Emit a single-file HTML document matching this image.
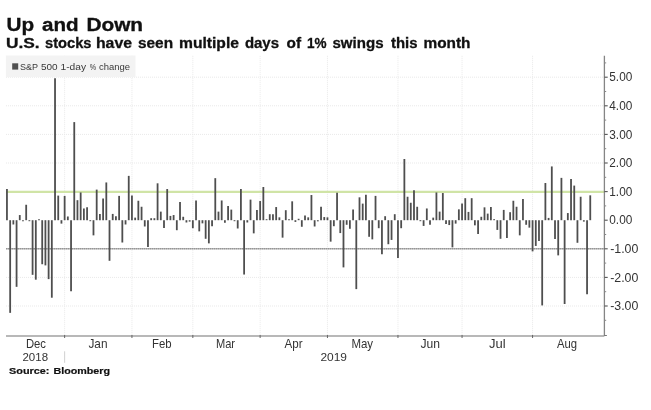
<!DOCTYPE html>
<html><head><meta charset="utf-8"><style>
html,body{margin:0;padding:0;background:#fff;width:651px;height:410px;overflow:hidden}
svg{display:block;will-change:transform}
text{font-family:"Liberation Sans",sans-serif}
</style></head><body>
<svg width="651" height="410" viewBox="0 0 651 410">
<rect width="651" height="410" fill="#fff"/>

<text x="6.46" y="30.9" font-size="19.2" font-weight="bold" fill="#111" stroke="#111" stroke-width="0.35" textLength="27.58" lengthAdjust="spacingAndGlyphs">Up</text>
<text x="41.96" y="30.9" font-size="19.2" font-weight="bold" fill="#111" stroke="#111" stroke-width="0.35" textLength="36.61" lengthAdjust="spacingAndGlyphs">and</text>
<text x="86.43" y="30.9" font-size="19.2" font-weight="bold" fill="#111" stroke="#111" stroke-width="0.35" textLength="56.62" lengthAdjust="spacingAndGlyphs">Down</text>
<text x="5.92" y="48.1" font-size="14.3" font-weight="bold" fill="#111" stroke="#111" stroke-width="0.3" textLength="33.69" lengthAdjust="spacingAndGlyphs">U.S.</text>
<text x="44.98" y="48.1" font-size="14.3" font-weight="bold" fill="#111" stroke="#111" stroke-width="0.3" textLength="46.54" lengthAdjust="spacingAndGlyphs">stocks</text>
<text x="95.97" y="48.1" font-size="14.3" font-weight="bold" fill="#111" stroke="#111" stroke-width="0.3" textLength="36.03" lengthAdjust="spacingAndGlyphs">have</text>
<text x="137.98" y="48.1" font-size="14.3" font-weight="bold" fill="#111" stroke="#111" stroke-width="0.3" textLength="35.08" lengthAdjust="spacingAndGlyphs">seen</text>
<text x="178.98" y="48.1" font-size="14.3" font-weight="bold" fill="#111" stroke="#111" stroke-width="0.3" textLength="60.03" lengthAdjust="spacingAndGlyphs">multiple</text>
<text x="244.92" y="48.1" font-size="14.3" font-weight="bold" fill="#111" stroke="#111" stroke-width="0.3" textLength="34.11" lengthAdjust="spacingAndGlyphs">days</text>
<text x="286.49" y="48.1" font-size="14.3" font-weight="bold" fill="#111" stroke="#111" stroke-width="0.3" textLength="14.53" lengthAdjust="spacingAndGlyphs">of</text>
<text x="306.96" y="48.1" font-size="14.3" font-weight="bold" fill="#111" stroke="#111" stroke-width="0.3" textLength="19.56" lengthAdjust="spacingAndGlyphs">1%</text>
<text x="332.48" y="48.1" font-size="14.3" font-weight="bold" fill="#111" stroke="#111" stroke-width="0.3" textLength="51.05" lengthAdjust="spacingAndGlyphs">swings</text>
<text x="391.00" y="48.1" font-size="14.3" font-weight="bold" fill="#111" stroke="#111" stroke-width="0.3" textLength="26.50" lengthAdjust="spacingAndGlyphs">this</text>
<text x="423.47" y="48.1" font-size="14.3" font-weight="bold" fill="#111" stroke="#111" stroke-width="0.3" textLength="47.06" lengthAdjust="spacingAndGlyphs">month</text>
<line x1="6.0" y1="306.00" x2="604.4" y2="306.00" stroke="#e9e9e9" stroke-width="1" stroke-dasharray="1,1"/>
<line x1="6.0" y1="277.40" x2="604.4" y2="277.40" stroke="#e9e9e9" stroke-width="1" stroke-dasharray="1,1"/>
<line x1="6.0" y1="163.00" x2="604.4" y2="163.00" stroke="#e9e9e9" stroke-width="1" stroke-dasharray="1,1"/>
<line x1="6.0" y1="134.40" x2="604.4" y2="134.40" stroke="#e9e9e9" stroke-width="1" stroke-dasharray="1,1"/>
<line x1="6.0" y1="105.80" x2="604.4" y2="105.80" stroke="#e9e9e9" stroke-width="1" stroke-dasharray="1,1"/>
<line x1="6.0" y1="77.20" x2="604.4" y2="77.20" stroke="#e9e9e9" stroke-width="1" stroke-dasharray="1,1"/>
<line x1="64.64" y1="55.8" x2="64.64" y2="336.0" stroke="#e9e9e9" stroke-width="1" stroke-dasharray="1,1"/>
<line x1="131.94" y1="55.8" x2="131.94" y2="336.0" stroke="#e9e9e9" stroke-width="1" stroke-dasharray="1,1"/>
<line x1="192.84" y1="55.8" x2="192.84" y2="336.0" stroke="#e9e9e9" stroke-width="1" stroke-dasharray="1,1"/>
<line x1="260.14" y1="55.8" x2="260.14" y2="336.0" stroke="#e9e9e9" stroke-width="1" stroke-dasharray="1,1"/>
<line x1="327.45" y1="55.8" x2="327.45" y2="336.0" stroke="#e9e9e9" stroke-width="1" stroke-dasharray="1,1"/>
<line x1="397.96" y1="55.8" x2="397.96" y2="336.0" stroke="#e9e9e9" stroke-width="1" stroke-dasharray="1,1"/>
<line x1="462.06" y1="55.8" x2="462.06" y2="336.0" stroke="#e9e9e9" stroke-width="1" stroke-dasharray="1,1"/>
<line x1="532.57" y1="55.8" x2="532.57" y2="336.0" stroke="#e9e9e9" stroke-width="1" stroke-dasharray="1,1"/>
<rect x="5.85" y="55.5" width="129.65" height="21.6" fill="#f3f3f3"/>
<rect x="12.2" y="63.3" width="6" height="6.3" fill="#505050"/>
<text x="19.98" y="70.2" font-size="9.9" fill="#383838" textLength="18.06" lengthAdjust="spacingAndGlyphs">S&amp;P</text>
<text x="40.94" y="70.2" font-size="9.9" fill="#383838" textLength="16.65" lengthAdjust="spacingAndGlyphs">500</text>
<text x="60.49" y="70.2" font-size="9.9" fill="#383838" textLength="25.52" lengthAdjust="spacingAndGlyphs">1-day</text>
<text x="89.80" y="70.2" font-size="9.9" fill="#383838" textLength="6.41" lengthAdjust="spacingAndGlyphs">%</text>
<text x="98.97" y="70.2" font-size="9.9" fill="#383838" textLength="31.05" lengthAdjust="spacingAndGlyphs">change</text>
<line x1="6.0" y1="191.85" x2="604.4" y2="191.85" stroke="#d0e4a6" stroke-width="2.1"/>
<line x1="6.0" y1="248.80" x2="604.4" y2="248.80" stroke="#b4b4b4" stroke-width="1.5"/>
<line x1="6.0" y1="248.80" x2="604.4" y2="248.80" stroke="#8c8c8c" stroke-width="1.1" stroke-dasharray="1,1"/>
<line x1="6.95" y1="220.20" x2="6.95" y2="189.03" stroke="#4e4e4e" stroke-width="1.8"/>
<line x1="10.16" y1="220.20" x2="10.16" y2="312.86" stroke="#4e4e4e" stroke-width="1.8"/>
<line x1="13.36" y1="220.20" x2="13.36" y2="224.49" stroke="#4e4e4e" stroke-width="1.8"/>
<line x1="16.57" y1="220.20" x2="16.57" y2="286.84" stroke="#4e4e4e" stroke-width="1.8"/>
<line x1="19.77" y1="220.20" x2="19.77" y2="215.05" stroke="#4e4e4e" stroke-width="1.8"/>
<line x1="22.97" y1="220.20" x2="22.97" y2="221.34" stroke="#4e4e4e" stroke-width="1.8"/>
<line x1="26.18" y1="220.20" x2="26.18" y2="204.76" stroke="#4e4e4e" stroke-width="1.8"/>
<line x1="29.39" y1="220.20" x2="29.39" y2="221.20" stroke="#4e4e4e" stroke-width="1.8"/>
<line x1="32.59" y1="220.20" x2="32.59" y2="274.83" stroke="#4e4e4e" stroke-width="1.8"/>
<line x1="35.80" y1="220.20" x2="35.80" y2="279.69" stroke="#4e4e4e" stroke-width="1.8"/>
<line x1="39.00" y1="220.20" x2="39.00" y2="219.20" stroke="#4e4e4e" stroke-width="1.8"/>
<line x1="42.21" y1="220.20" x2="42.21" y2="264.24" stroke="#4e4e4e" stroke-width="1.8"/>
<line x1="45.41" y1="220.20" x2="45.41" y2="265.39" stroke="#4e4e4e" stroke-width="1.8"/>
<line x1="48.62" y1="220.20" x2="48.62" y2="279.12" stroke="#4e4e4e" stroke-width="1.8"/>
<line x1="51.82" y1="220.20" x2="51.82" y2="297.71" stroke="#4e4e4e" stroke-width="1.8"/>
<line x1="55.03" y1="220.20" x2="55.03" y2="78.34" stroke="#4e4e4e" stroke-width="1.8"/>
<line x1="58.23" y1="220.20" x2="58.23" y2="195.60" stroke="#4e4e4e" stroke-width="1.8"/>
<line x1="61.44" y1="220.20" x2="61.44" y2="223.63" stroke="#4e4e4e" stroke-width="1.8"/>
<line x1="64.64" y1="220.20" x2="64.64" y2="195.89" stroke="#4e4e4e" stroke-width="1.8"/>
<line x1="67.84" y1="220.20" x2="67.84" y2="216.48" stroke="#4e4e4e" stroke-width="1.8"/>
<line x1="71.05" y1="220.20" x2="71.05" y2="291.13" stroke="#4e4e4e" stroke-width="1.8"/>
<line x1="74.26" y1="220.20" x2="74.26" y2="122.10" stroke="#4e4e4e" stroke-width="1.8"/>
<line x1="77.46" y1="220.20" x2="77.46" y2="200.18" stroke="#4e4e4e" stroke-width="1.8"/>
<line x1="80.67" y1="220.20" x2="80.67" y2="192.46" stroke="#4e4e4e" stroke-width="1.8"/>
<line x1="83.87" y1="220.20" x2="83.87" y2="208.47" stroke="#4e4e4e" stroke-width="1.8"/>
<line x1="87.08" y1="220.20" x2="87.08" y2="207.33" stroke="#4e4e4e" stroke-width="1.8"/>
<line x1="90.28" y1="220.20" x2="90.28" y2="221.20" stroke="#4e4e4e" stroke-width="1.8"/>
<line x1="93.48" y1="220.20" x2="93.48" y2="235.36" stroke="#4e4e4e" stroke-width="1.8"/>
<line x1="96.69" y1="220.20" x2="96.69" y2="189.60" stroke="#4e4e4e" stroke-width="1.8"/>
<line x1="99.90" y1="220.20" x2="99.90" y2="213.91" stroke="#4e4e4e" stroke-width="1.8"/>
<line x1="103.10" y1="220.20" x2="103.10" y2="198.46" stroke="#4e4e4e" stroke-width="1.8"/>
<line x1="106.31" y1="220.20" x2="106.31" y2="182.45" stroke="#4e4e4e" stroke-width="1.8"/>
<line x1="109.51" y1="220.20" x2="109.51" y2="260.81" stroke="#4e4e4e" stroke-width="1.8"/>
<line x1="112.72" y1="220.20" x2="112.72" y2="213.91" stroke="#4e4e4e" stroke-width="1.8"/>
<line x1="115.92" y1="220.20" x2="115.92" y2="216.20" stroke="#4e4e4e" stroke-width="1.8"/>
<line x1="119.12" y1="220.20" x2="119.12" y2="195.89" stroke="#4e4e4e" stroke-width="1.8"/>
<line x1="122.33" y1="220.20" x2="122.33" y2="242.51" stroke="#4e4e4e" stroke-width="1.8"/>
<line x1="125.54" y1="220.20" x2="125.54" y2="224.49" stroke="#4e4e4e" stroke-width="1.8"/>
<line x1="128.74" y1="220.20" x2="128.74" y2="175.87" stroke="#4e4e4e" stroke-width="1.8"/>
<line x1="131.94" y1="220.20" x2="131.94" y2="195.60" stroke="#4e4e4e" stroke-width="1.8"/>
<line x1="135.15" y1="220.20" x2="135.15" y2="217.63" stroke="#4e4e4e" stroke-width="1.8"/>
<line x1="138.35" y1="220.20" x2="138.35" y2="200.75" stroke="#4e4e4e" stroke-width="1.8"/>
<line x1="141.56" y1="220.20" x2="141.56" y2="206.76" stroke="#4e4e4e" stroke-width="1.8"/>
<line x1="144.76" y1="220.20" x2="144.76" y2="226.49" stroke="#4e4e4e" stroke-width="1.8"/>
<line x1="147.97" y1="220.20" x2="147.97" y2="247.08" stroke="#4e4e4e" stroke-width="1.8"/>
<line x1="151.17" y1="220.20" x2="151.17" y2="218.20" stroke="#4e4e4e" stroke-width="1.8"/>
<line x1="154.38" y1="220.20" x2="154.38" y2="218.20" stroke="#4e4e4e" stroke-width="1.8"/>
<line x1="157.58" y1="220.20" x2="157.58" y2="183.31" stroke="#4e4e4e" stroke-width="1.8"/>
<line x1="160.79" y1="220.20" x2="160.79" y2="211.62" stroke="#4e4e4e" stroke-width="1.8"/>
<line x1="164.00" y1="220.20" x2="164.00" y2="227.92" stroke="#4e4e4e" stroke-width="1.8"/>
<line x1="167.20" y1="220.20" x2="167.20" y2="189.03" stroke="#4e4e4e" stroke-width="1.8"/>
<line x1="170.41" y1="220.20" x2="170.41" y2="215.91" stroke="#4e4e4e" stroke-width="1.8"/>
<line x1="173.61" y1="220.20" x2="173.61" y2="215.05" stroke="#4e4e4e" stroke-width="1.8"/>
<line x1="176.81" y1="220.20" x2="176.81" y2="230.21" stroke="#4e4e4e" stroke-width="1.8"/>
<line x1="180.02" y1="220.20" x2="180.02" y2="201.90" stroke="#4e4e4e" stroke-width="1.8"/>
<line x1="183.22" y1="220.20" x2="183.22" y2="216.77" stroke="#4e4e4e" stroke-width="1.8"/>
<line x1="186.43" y1="220.20" x2="186.43" y2="222.49" stroke="#4e4e4e" stroke-width="1.8"/>
<line x1="189.63" y1="220.20" x2="189.63" y2="221.63" stroke="#4e4e4e" stroke-width="1.8"/>
<line x1="192.84" y1="220.20" x2="192.84" y2="228.21" stroke="#4e4e4e" stroke-width="1.8"/>
<line x1="196.04" y1="220.20" x2="196.04" y2="200.47" stroke="#4e4e4e" stroke-width="1.8"/>
<line x1="199.25" y1="220.20" x2="199.25" y2="231.35" stroke="#4e4e4e" stroke-width="1.8"/>
<line x1="202.45" y1="220.20" x2="202.45" y2="223.35" stroke="#4e4e4e" stroke-width="1.8"/>
<line x1="205.66" y1="220.20" x2="205.66" y2="238.79" stroke="#4e4e4e" stroke-width="1.8"/>
<line x1="208.86" y1="220.20" x2="208.86" y2="243.37" stroke="#4e4e4e" stroke-width="1.8"/>
<line x1="212.07" y1="220.20" x2="212.07" y2="226.21" stroke="#4e4e4e" stroke-width="1.8"/>
<line x1="215.28" y1="220.20" x2="215.28" y2="178.16" stroke="#4e4e4e" stroke-width="1.8"/>
<line x1="218.48" y1="220.20" x2="218.48" y2="211.62" stroke="#4e4e4e" stroke-width="1.8"/>
<line x1="221.69" y1="220.20" x2="221.69" y2="200.47" stroke="#4e4e4e" stroke-width="1.8"/>
<line x1="224.89" y1="220.20" x2="224.89" y2="222.77" stroke="#4e4e4e" stroke-width="1.8"/>
<line x1="228.09" y1="220.20" x2="228.09" y2="205.90" stroke="#4e4e4e" stroke-width="1.8"/>
<line x1="231.30" y1="220.20" x2="231.30" y2="209.62" stroke="#4e4e4e" stroke-width="1.8"/>
<line x1="234.50" y1="220.20" x2="234.50" y2="221.20" stroke="#4e4e4e" stroke-width="1.8"/>
<line x1="237.71" y1="220.20" x2="237.71" y2="228.49" stroke="#4e4e4e" stroke-width="1.8"/>
<line x1="240.91" y1="220.20" x2="240.91" y2="189.03" stroke="#4e4e4e" stroke-width="1.8"/>
<line x1="244.12" y1="220.20" x2="244.12" y2="274.54" stroke="#4e4e4e" stroke-width="1.8"/>
<line x1="247.32" y1="220.20" x2="247.32" y2="222.49" stroke="#4e4e4e" stroke-width="1.8"/>
<line x1="250.53" y1="220.20" x2="250.53" y2="199.61" stroke="#4e4e4e" stroke-width="1.8"/>
<line x1="253.73" y1="220.20" x2="253.73" y2="233.36" stroke="#4e4e4e" stroke-width="1.8"/>
<line x1="256.94" y1="220.20" x2="256.94" y2="209.90" stroke="#4e4e4e" stroke-width="1.8"/>
<line x1="260.14" y1="220.20" x2="260.14" y2="201.04" stroke="#4e4e4e" stroke-width="1.8"/>
<line x1="263.35" y1="220.20" x2="263.35" y2="187.02" stroke="#4e4e4e" stroke-width="1.8"/>
<line x1="266.56" y1="220.20" x2="266.56" y2="219.20" stroke="#4e4e4e" stroke-width="1.8"/>
<line x1="269.76" y1="220.20" x2="269.76" y2="214.19" stroke="#4e4e4e" stroke-width="1.8"/>
<line x1="272.96" y1="220.20" x2="272.96" y2="214.19" stroke="#4e4e4e" stroke-width="1.8"/>
<line x1="276.17" y1="220.20" x2="276.17" y2="207.04" stroke="#4e4e4e" stroke-width="1.8"/>
<line x1="279.38" y1="220.20" x2="279.38" y2="217.34" stroke="#4e4e4e" stroke-width="1.8"/>
<line x1="282.58" y1="220.20" x2="282.58" y2="237.65" stroke="#4e4e4e" stroke-width="1.8"/>
<line x1="285.78" y1="220.20" x2="285.78" y2="210.19" stroke="#4e4e4e" stroke-width="1.8"/>
<line x1="288.99" y1="220.20" x2="288.99" y2="219.20" stroke="#4e4e4e" stroke-width="1.8"/>
<line x1="292.19" y1="220.20" x2="292.19" y2="201.32" stroke="#4e4e4e" stroke-width="1.8"/>
<line x1="295.40" y1="220.20" x2="295.40" y2="221.92" stroke="#4e4e4e" stroke-width="1.8"/>
<line x1="298.61" y1="220.20" x2="298.61" y2="218.77" stroke="#4e4e4e" stroke-width="1.8"/>
<line x1="301.81" y1="220.20" x2="301.81" y2="226.78" stroke="#4e4e4e" stroke-width="1.8"/>
<line x1="305.01" y1="220.20" x2="305.01" y2="215.62" stroke="#4e4e4e" stroke-width="1.8"/>
<line x1="308.22" y1="220.20" x2="308.22" y2="217.34" stroke="#4e4e4e" stroke-width="1.8"/>
<line x1="311.43" y1="220.20" x2="311.43" y2="195.03" stroke="#4e4e4e" stroke-width="1.8"/>
<line x1="314.63" y1="220.20" x2="314.63" y2="226.49" stroke="#4e4e4e" stroke-width="1.8"/>
<line x1="317.83" y1="220.20" x2="317.83" y2="221.34" stroke="#4e4e4e" stroke-width="1.8"/>
<line x1="321.04" y1="220.20" x2="321.04" y2="206.76" stroke="#4e4e4e" stroke-width="1.8"/>
<line x1="324.25" y1="220.20" x2="324.25" y2="217.05" stroke="#4e4e4e" stroke-width="1.8"/>
<line x1="327.45" y1="220.20" x2="327.45" y2="217.34" stroke="#4e4e4e" stroke-width="1.8"/>
<line x1="330.65" y1="220.20" x2="330.65" y2="241.65" stroke="#4e4e4e" stroke-width="1.8"/>
<line x1="333.86" y1="220.20" x2="333.86" y2="226.21" stroke="#4e4e4e" stroke-width="1.8"/>
<line x1="337.06" y1="220.20" x2="337.06" y2="192.74" stroke="#4e4e4e" stroke-width="1.8"/>
<line x1="340.27" y1="220.20" x2="340.27" y2="233.07" stroke="#4e4e4e" stroke-width="1.8"/>
<line x1="343.48" y1="220.20" x2="343.48" y2="267.39" stroke="#4e4e4e" stroke-width="1.8"/>
<line x1="346.68" y1="220.20" x2="346.68" y2="224.78" stroke="#4e4e4e" stroke-width="1.8"/>
<line x1="349.88" y1="220.20" x2="349.88" y2="228.78" stroke="#4e4e4e" stroke-width="1.8"/>
<line x1="353.09" y1="220.20" x2="353.09" y2="209.62" stroke="#4e4e4e" stroke-width="1.8"/>
<line x1="356.30" y1="220.20" x2="356.30" y2="289.13" stroke="#4e4e4e" stroke-width="1.8"/>
<line x1="359.50" y1="220.20" x2="359.50" y2="197.32" stroke="#4e4e4e" stroke-width="1.8"/>
<line x1="362.70" y1="220.20" x2="362.70" y2="203.61" stroke="#4e4e4e" stroke-width="1.8"/>
<line x1="365.91" y1="220.20" x2="365.91" y2="194.75" stroke="#4e4e4e" stroke-width="1.8"/>
<line x1="369.12" y1="220.20" x2="369.12" y2="236.79" stroke="#4e4e4e" stroke-width="1.8"/>
<line x1="372.32" y1="220.20" x2="372.32" y2="239.36" stroke="#4e4e4e" stroke-width="1.8"/>
<line x1="375.52" y1="220.20" x2="375.52" y2="195.89" stroke="#4e4e4e" stroke-width="1.8"/>
<line x1="378.73" y1="220.20" x2="378.73" y2="228.21" stroke="#4e4e4e" stroke-width="1.8"/>
<line x1="381.94" y1="220.20" x2="381.94" y2="254.23" stroke="#4e4e4e" stroke-width="1.8"/>
<line x1="385.14" y1="220.20" x2="385.14" y2="216.20" stroke="#4e4e4e" stroke-width="1.8"/>
<line x1="388.34" y1="220.20" x2="388.34" y2="244.22" stroke="#4e4e4e" stroke-width="1.8"/>
<line x1="391.55" y1="220.20" x2="391.55" y2="239.93" stroke="#4e4e4e" stroke-width="1.8"/>
<line x1="394.75" y1="220.20" x2="394.75" y2="214.19" stroke="#4e4e4e" stroke-width="1.8"/>
<line x1="397.96" y1="220.20" x2="397.96" y2="257.95" stroke="#4e4e4e" stroke-width="1.8"/>
<line x1="401.17" y1="220.20" x2="401.17" y2="228.21" stroke="#4e4e4e" stroke-width="1.8"/>
<line x1="404.37" y1="220.20" x2="404.37" y2="159.00" stroke="#4e4e4e" stroke-width="1.8"/>
<line x1="407.57" y1="220.20" x2="407.57" y2="196.75" stroke="#4e4e4e" stroke-width="1.8"/>
<line x1="410.78" y1="220.20" x2="410.78" y2="202.75" stroke="#4e4e4e" stroke-width="1.8"/>
<line x1="413.99" y1="220.20" x2="413.99" y2="190.17" stroke="#4e4e4e" stroke-width="1.8"/>
<line x1="417.19" y1="220.20" x2="417.19" y2="206.76" stroke="#4e4e4e" stroke-width="1.8"/>
<line x1="420.39" y1="220.20" x2="420.39" y2="221.20" stroke="#4e4e4e" stroke-width="1.8"/>
<line x1="423.60" y1="220.20" x2="423.60" y2="225.92" stroke="#4e4e4e" stroke-width="1.8"/>
<line x1="426.81" y1="220.20" x2="426.81" y2="208.47" stroke="#4e4e4e" stroke-width="1.8"/>
<line x1="430.01" y1="220.20" x2="430.01" y2="224.78" stroke="#4e4e4e" stroke-width="1.8"/>
<line x1="433.21" y1="220.20" x2="433.21" y2="217.63" stroke="#4e4e4e" stroke-width="1.8"/>
<line x1="436.42" y1="220.20" x2="436.42" y2="192.46" stroke="#4e4e4e" stroke-width="1.8"/>
<line x1="439.62" y1="220.20" x2="439.62" y2="211.62" stroke="#4e4e4e" stroke-width="1.8"/>
<line x1="442.83" y1="220.20" x2="442.83" y2="193.03" stroke="#4e4e4e" stroke-width="1.8"/>
<line x1="446.04" y1="220.20" x2="446.04" y2="223.92" stroke="#4e4e4e" stroke-width="1.8"/>
<line x1="449.24" y1="220.20" x2="449.24" y2="225.06" stroke="#4e4e4e" stroke-width="1.8"/>
<line x1="452.44" y1="220.20" x2="452.44" y2="247.37" stroke="#4e4e4e" stroke-width="1.8"/>
<line x1="455.65" y1="220.20" x2="455.65" y2="223.63" stroke="#4e4e4e" stroke-width="1.8"/>
<line x1="458.86" y1="220.20" x2="458.86" y2="209.33" stroke="#4e4e4e" stroke-width="1.8"/>
<line x1="462.06" y1="220.20" x2="462.06" y2="203.61" stroke="#4e4e4e" stroke-width="1.8"/>
<line x1="465.26" y1="220.20" x2="465.26" y2="198.18" stroke="#4e4e4e" stroke-width="1.8"/>
<line x1="468.47" y1="220.20" x2="468.47" y2="211.91" stroke="#4e4e4e" stroke-width="1.8"/>
<line x1="471.68" y1="220.20" x2="471.68" y2="198.18" stroke="#4e4e4e" stroke-width="1.8"/>
<line x1="474.88" y1="220.20" x2="474.88" y2="225.35" stroke="#4e4e4e" stroke-width="1.8"/>
<line x1="478.08" y1="220.20" x2="478.08" y2="233.93" stroke="#4e4e4e" stroke-width="1.8"/>
<line x1="481.29" y1="220.20" x2="481.29" y2="216.77" stroke="#4e4e4e" stroke-width="1.8"/>
<line x1="484.50" y1="220.20" x2="484.50" y2="207.33" stroke="#4e4e4e" stroke-width="1.8"/>
<line x1="487.70" y1="220.20" x2="487.70" y2="213.62" stroke="#4e4e4e" stroke-width="1.8"/>
<line x1="490.90" y1="220.20" x2="490.90" y2="207.04" stroke="#4e4e4e" stroke-width="1.8"/>
<line x1="494.11" y1="220.20" x2="494.11" y2="219.20" stroke="#4e4e4e" stroke-width="1.8"/>
<line x1="497.31" y1="220.20" x2="497.31" y2="229.92" stroke="#4e4e4e" stroke-width="1.8"/>
<line x1="500.52" y1="220.20" x2="500.52" y2="238.79" stroke="#4e4e4e" stroke-width="1.8"/>
<line x1="503.73" y1="220.20" x2="503.73" y2="209.90" stroke="#4e4e4e" stroke-width="1.8"/>
<line x1="506.93" y1="220.20" x2="506.93" y2="237.93" stroke="#4e4e4e" stroke-width="1.8"/>
<line x1="510.13" y1="220.20" x2="510.13" y2="212.19" stroke="#4e4e4e" stroke-width="1.8"/>
<line x1="513.34" y1="220.20" x2="513.34" y2="200.75" stroke="#4e4e4e" stroke-width="1.8"/>
<line x1="516.55" y1="220.20" x2="516.55" y2="206.76" stroke="#4e4e4e" stroke-width="1.8"/>
<line x1="519.75" y1="220.20" x2="519.75" y2="235.36" stroke="#4e4e4e" stroke-width="1.8"/>
<line x1="522.96" y1="220.20" x2="522.96" y2="199.04" stroke="#4e4e4e" stroke-width="1.8"/>
<line x1="526.16" y1="220.20" x2="526.16" y2="224.78" stroke="#4e4e4e" stroke-width="1.8"/>
<line x1="529.37" y1="220.20" x2="529.37" y2="227.64" stroke="#4e4e4e" stroke-width="1.8"/>
<line x1="532.57" y1="220.20" x2="532.57" y2="251.37" stroke="#4e4e4e" stroke-width="1.8"/>
<line x1="535.78" y1="220.20" x2="535.78" y2="245.94" stroke="#4e4e4e" stroke-width="1.8"/>
<line x1="538.98" y1="220.20" x2="538.98" y2="241.08" stroke="#4e4e4e" stroke-width="1.8"/>
<line x1="542.19" y1="220.20" x2="542.19" y2="305.43" stroke="#4e4e4e" stroke-width="1.8"/>
<line x1="545.39" y1="220.20" x2="545.39" y2="183.02" stroke="#4e4e4e" stroke-width="1.8"/>
<line x1="548.60" y1="220.20" x2="548.60" y2="217.91" stroke="#4e4e4e" stroke-width="1.8"/>
<line x1="551.80" y1="220.20" x2="551.80" y2="166.43" stroke="#4e4e4e" stroke-width="1.8"/>
<line x1="555.01" y1="220.20" x2="555.01" y2="239.08" stroke="#4e4e4e" stroke-width="1.8"/>
<line x1="558.21" y1="220.20" x2="558.21" y2="255.38" stroke="#4e4e4e" stroke-width="1.8"/>
<line x1="561.42" y1="220.20" x2="561.42" y2="177.87" stroke="#4e4e4e" stroke-width="1.8"/>
<line x1="564.62" y1="220.20" x2="564.62" y2="304.00" stroke="#4e4e4e" stroke-width="1.8"/>
<line x1="567.83" y1="220.20" x2="567.83" y2="213.05" stroke="#4e4e4e" stroke-width="1.8"/>
<line x1="571.03" y1="220.20" x2="571.03" y2="179.02" stroke="#4e4e4e" stroke-width="1.8"/>
<line x1="574.24" y1="220.20" x2="574.24" y2="185.59" stroke="#4e4e4e" stroke-width="1.8"/>
<line x1="577.44" y1="220.20" x2="577.44" y2="242.79" stroke="#4e4e4e" stroke-width="1.8"/>
<line x1="580.65" y1="220.20" x2="580.65" y2="196.75" stroke="#4e4e4e" stroke-width="1.8"/>
<line x1="583.85" y1="220.20" x2="583.85" y2="221.63" stroke="#4e4e4e" stroke-width="1.8"/>
<line x1="587.06" y1="220.20" x2="587.06" y2="294.27" stroke="#4e4e4e" stroke-width="1.8"/>
<line x1="590.26" y1="220.20" x2="590.26" y2="195.32" stroke="#4e4e4e" stroke-width="1.8"/>
<line x1="6.0" y1="336.0" x2="604.4" y2="336.0" stroke="#a0a0a0" stroke-width="1.5"/>
<line x1="604.4" y1="55.8" x2="604.4" y2="336.0" stroke="#858585" stroke-width="1.3"/>
<line x1="604.4" y1="306.00" x2="607.6999999999999" y2="306.00" stroke="#555" stroke-width="1.1"/>
<text x="610.2" y="310.10" font-size="12" fill="#333" textLength="28.2" lengthAdjust="spacingAndGlyphs">-3.00</text>
<line x1="604.4" y1="277.40" x2="607.6999999999999" y2="277.40" stroke="#555" stroke-width="1.1"/>
<text x="610.2" y="281.50" font-size="12" fill="#333" textLength="28.2" lengthAdjust="spacingAndGlyphs">-2.00</text>
<line x1="604.4" y1="248.80" x2="607.6999999999999" y2="248.80" stroke="#555" stroke-width="1.1"/>
<text x="610.2" y="252.90" font-size="12" fill="#333" textLength="28.2" lengthAdjust="spacingAndGlyphs">-1.00</text>
<line x1="604.4" y1="220.20" x2="607.6999999999999" y2="220.20" stroke="#555" stroke-width="1.1"/>
<text x="609.3" y="224.30" font-size="12" fill="#333" textLength="23" lengthAdjust="spacingAndGlyphs">0.00</text>
<line x1="604.4" y1="191.60" x2="607.6999999999999" y2="191.60" stroke="#555" stroke-width="1.1"/>
<text x="609.3" y="195.70" font-size="12" fill="#333" textLength="23" lengthAdjust="spacingAndGlyphs">1.00</text>
<line x1="604.4" y1="163.00" x2="607.6999999999999" y2="163.00" stroke="#555" stroke-width="1.1"/>
<text x="609.3" y="167.10" font-size="12" fill="#333" textLength="23" lengthAdjust="spacingAndGlyphs">2.00</text>
<line x1="604.4" y1="134.40" x2="607.6999999999999" y2="134.40" stroke="#555" stroke-width="1.1"/>
<text x="609.3" y="138.50" font-size="12" fill="#333" textLength="23" lengthAdjust="spacingAndGlyphs">3.00</text>
<line x1="604.4" y1="105.80" x2="607.6999999999999" y2="105.80" stroke="#555" stroke-width="1.1"/>
<text x="609.3" y="109.90" font-size="12" fill="#333" textLength="23" lengthAdjust="spacingAndGlyphs">4.00</text>
<line x1="604.4" y1="77.20" x2="607.6999999999999" y2="77.20" stroke="#555" stroke-width="1.1"/>
<text x="609.3" y="81.30" font-size="12" fill="#333" textLength="23" lengthAdjust="spacingAndGlyphs">5.00</text>
<line x1="604.4" y1="320.30" x2="606.1999999999999" y2="320.30" stroke="#888" stroke-width="1"/>
<line x1="604.4" y1="291.70" x2="606.1999999999999" y2="291.70" stroke="#888" stroke-width="1"/>
<line x1="604.4" y1="263.10" x2="606.1999999999999" y2="263.10" stroke="#888" stroke-width="1"/>
<line x1="604.4" y1="234.50" x2="606.1999999999999" y2="234.50" stroke="#888" stroke-width="1"/>
<line x1="604.4" y1="205.90" x2="606.1999999999999" y2="205.90" stroke="#888" stroke-width="1"/>
<line x1="604.4" y1="177.30" x2="606.1999999999999" y2="177.30" stroke="#888" stroke-width="1"/>
<line x1="604.4" y1="148.70" x2="606.1999999999999" y2="148.70" stroke="#888" stroke-width="1"/>
<line x1="604.4" y1="120.10" x2="606.1999999999999" y2="120.10" stroke="#888" stroke-width="1"/>
<line x1="604.4" y1="91.50" x2="606.1999999999999" y2="91.50" stroke="#888" stroke-width="1"/>
<line x1="604.4" y1="62.90" x2="606.1999999999999" y2="62.90" stroke="#888" stroke-width="1"/>
<line x1="604.4" y1="335.5" x2="606.9" y2="335.5" stroke="#777" stroke-width="1"/>
<line x1="64.64" y1="335.0" x2="64.64" y2="338.0" stroke="#666" stroke-width="1"/>
<line x1="131.94" y1="335.0" x2="131.94" y2="338.0" stroke="#666" stroke-width="1"/>
<line x1="192.84" y1="335.0" x2="192.84" y2="338.0" stroke="#666" stroke-width="1"/>
<line x1="260.14" y1="335.0" x2="260.14" y2="338.0" stroke="#666" stroke-width="1"/>
<line x1="327.45" y1="335.0" x2="327.45" y2="338.0" stroke="#666" stroke-width="1"/>
<line x1="397.96" y1="335.0" x2="397.96" y2="338.0" stroke="#666" stroke-width="1"/>
<line x1="462.06" y1="335.0" x2="462.06" y2="338.0" stroke="#666" stroke-width="1"/>
<line x1="532.57" y1="335.0" x2="532.57" y2="338.0" stroke="#666" stroke-width="1"/>
<text x="25.93" y="347.7" font-size="11.9" fill="#333" textLength="20.09" lengthAdjust="spacingAndGlyphs">Dec</text>
<text x="88.47" y="347.7" font-size="11.9" fill="#333" textLength="19.03" lengthAdjust="spacingAndGlyphs">Jan</text>
<text x="151.96" y="347.7" font-size="11.9" fill="#333" textLength="19.59" lengthAdjust="spacingAndGlyphs">Feb</text>
<text x="215.95" y="347.7" font-size="11.9" fill="#333" textLength="19.08" lengthAdjust="spacingAndGlyphs">Mar</text>
<text x="284.49" y="347.7" font-size="11.9" fill="#333" textLength="18.02" lengthAdjust="spacingAndGlyphs">Apr</text>
<text x="351.40" y="347.7" font-size="11.9" fill="#333" textLength="21.64" lengthAdjust="spacingAndGlyphs">May</text>
<text x="420.46" y="347.7" font-size="11.9" fill="#333" textLength="19.55" lengthAdjust="spacingAndGlyphs">Jun</text>
<text x="488.93" y="347.7" font-size="11.9" fill="#333" textLength="16.61" lengthAdjust="spacingAndGlyphs">Jul</text>
<text x="556.95" y="347.7" font-size="11.9" fill="#333" textLength="20.09" lengthAdjust="spacingAndGlyphs">Aug</text>
<text x="22.47" y="360.8" font-size="11.7" fill="#333" textLength="25.57" lengthAdjust="spacingAndGlyphs">2018</text>
<text x="320.45" y="360.8" font-size="11.7" fill="#333" textLength="26.58" lengthAdjust="spacingAndGlyphs">2019</text>
<line x1="64.64" y1="351.3" x2="64.64" y2="362.8" stroke="#d0d0d0" stroke-width="1"/>
<text x="8.98" y="374" font-size="9.5" font-weight="bold" fill="#111" stroke="#111" stroke-width="0.2" textLength="40.53" lengthAdjust="spacingAndGlyphs">Source:</text>
<text x="53.48" y="374" font-size="9.5" font-weight="bold" fill="#111" stroke="#111" stroke-width="0.2" textLength="56.54" lengthAdjust="spacingAndGlyphs">Bloomberg</text>
</svg></body></html>
